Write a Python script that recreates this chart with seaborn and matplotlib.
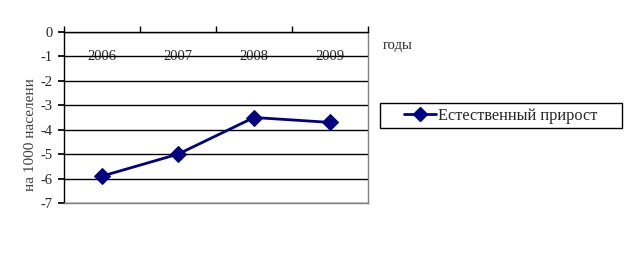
import matplotlib
matplotlib.use("Agg")
import matplotlib.pyplot as plt
import seaborn as sns
import pandas as pd
from matplotlib.ticker import FixedLocator
from matplotlib.patches import Rectangle
from matplotlib.lines import Line2D

years = ["2006", "2007", "2008", "2009"]
values = [-5.9, -5.0, -3.5, -3.7]
series_name = "Естественный прирост"
y_ticks = [0, -1, -2, -3, -4, -5, -6, -7]

sns.set_theme(style="white")
plt.rcParams['font.family'] = ['Liberation Serif', 'DejaVu Serif']

df = pd.DataFrame({"year": years, "value": values, "series": series_name})

fig = plt.figure(figsize=(6.27, 2.56), dpi=100)
ax = fig.add_axes([64/627, 1-203/256, (368-64)/627, (203-32)/256])

sns.lineplot(data=df, x="year", y="value", hue="series", palette=["#000080"],
             marker="D", markersize=8, markeredgecolor="#000080", linewidth=2,
             ax=ax, legend=False)

ax.set_xlim(-0.5, 3.5)
ax.set_ylim(-7, 0)
ax.set_yticks(y_ticks)
ax.set_yticklabels([str(v) for v in y_ticks], fontsize=10.5)
ax.yaxis.grid(True, color="black", linewidth=1)
ax.xaxis.grid(False)

ax.xaxis.tick_top()
ax.set_xticks(range(len(years)))
ax.set_xticklabels(years, fontsize=10.5)
ax.xaxis.set_minor_locator(FixedLocator([-0.5, 0.5, 1.5, 2.5, 3.5]))
ax.tick_params(axis="x", which="major", length=0, pad=-22.5, labeltop=True, labelbottom=False)
ax.tick_params(axis="x", which="minor", top=True, bottom=False, length=4, direction="out", color="black")
ax.tick_params(axis="y", which="major", left=True, length=4, direction="out", color="black", pad=4)
ax.set_xlabel("")
ax.set_ylabel("на 1000 населени", fontsize=11, color="#404040")
ax.yaxis.set_label_coords(-0.09, 0.40)

for s in ["left", "top"]:
    ax.spines[s].set_color("black")
    ax.spines[s].set_linewidth(1)
for s in ["right", "bottom"]:
    ax.spines[s].set_color("#808080")
    ax.spines[s].set_linewidth(1)

fig.text(383/627, 1-46/256, "годы", fontsize=10.5, va="center", ha="left")

# legend box
fig.patches.append(Rectangle((380/627, 1-128/256), (622-380)/627, 25/256,
                             transform=fig.transFigure, facecolor="white",
                             edgecolor="black", linewidth=1, zorder=1))
h = Line2D([], [], color="#000080", marker="D", markersize=7, linewidth=2)
leg = fig.legend([h], [series_name], loc="center left", bbox_to_anchor=(404/627, 1-116/256),
                 frameon=False, fontsize=11.8,
                 handlelength=1.95, handletextpad=0.15, borderpad=0, borderaxespad=0)

fig.savefig("out.png", dpi=100)
